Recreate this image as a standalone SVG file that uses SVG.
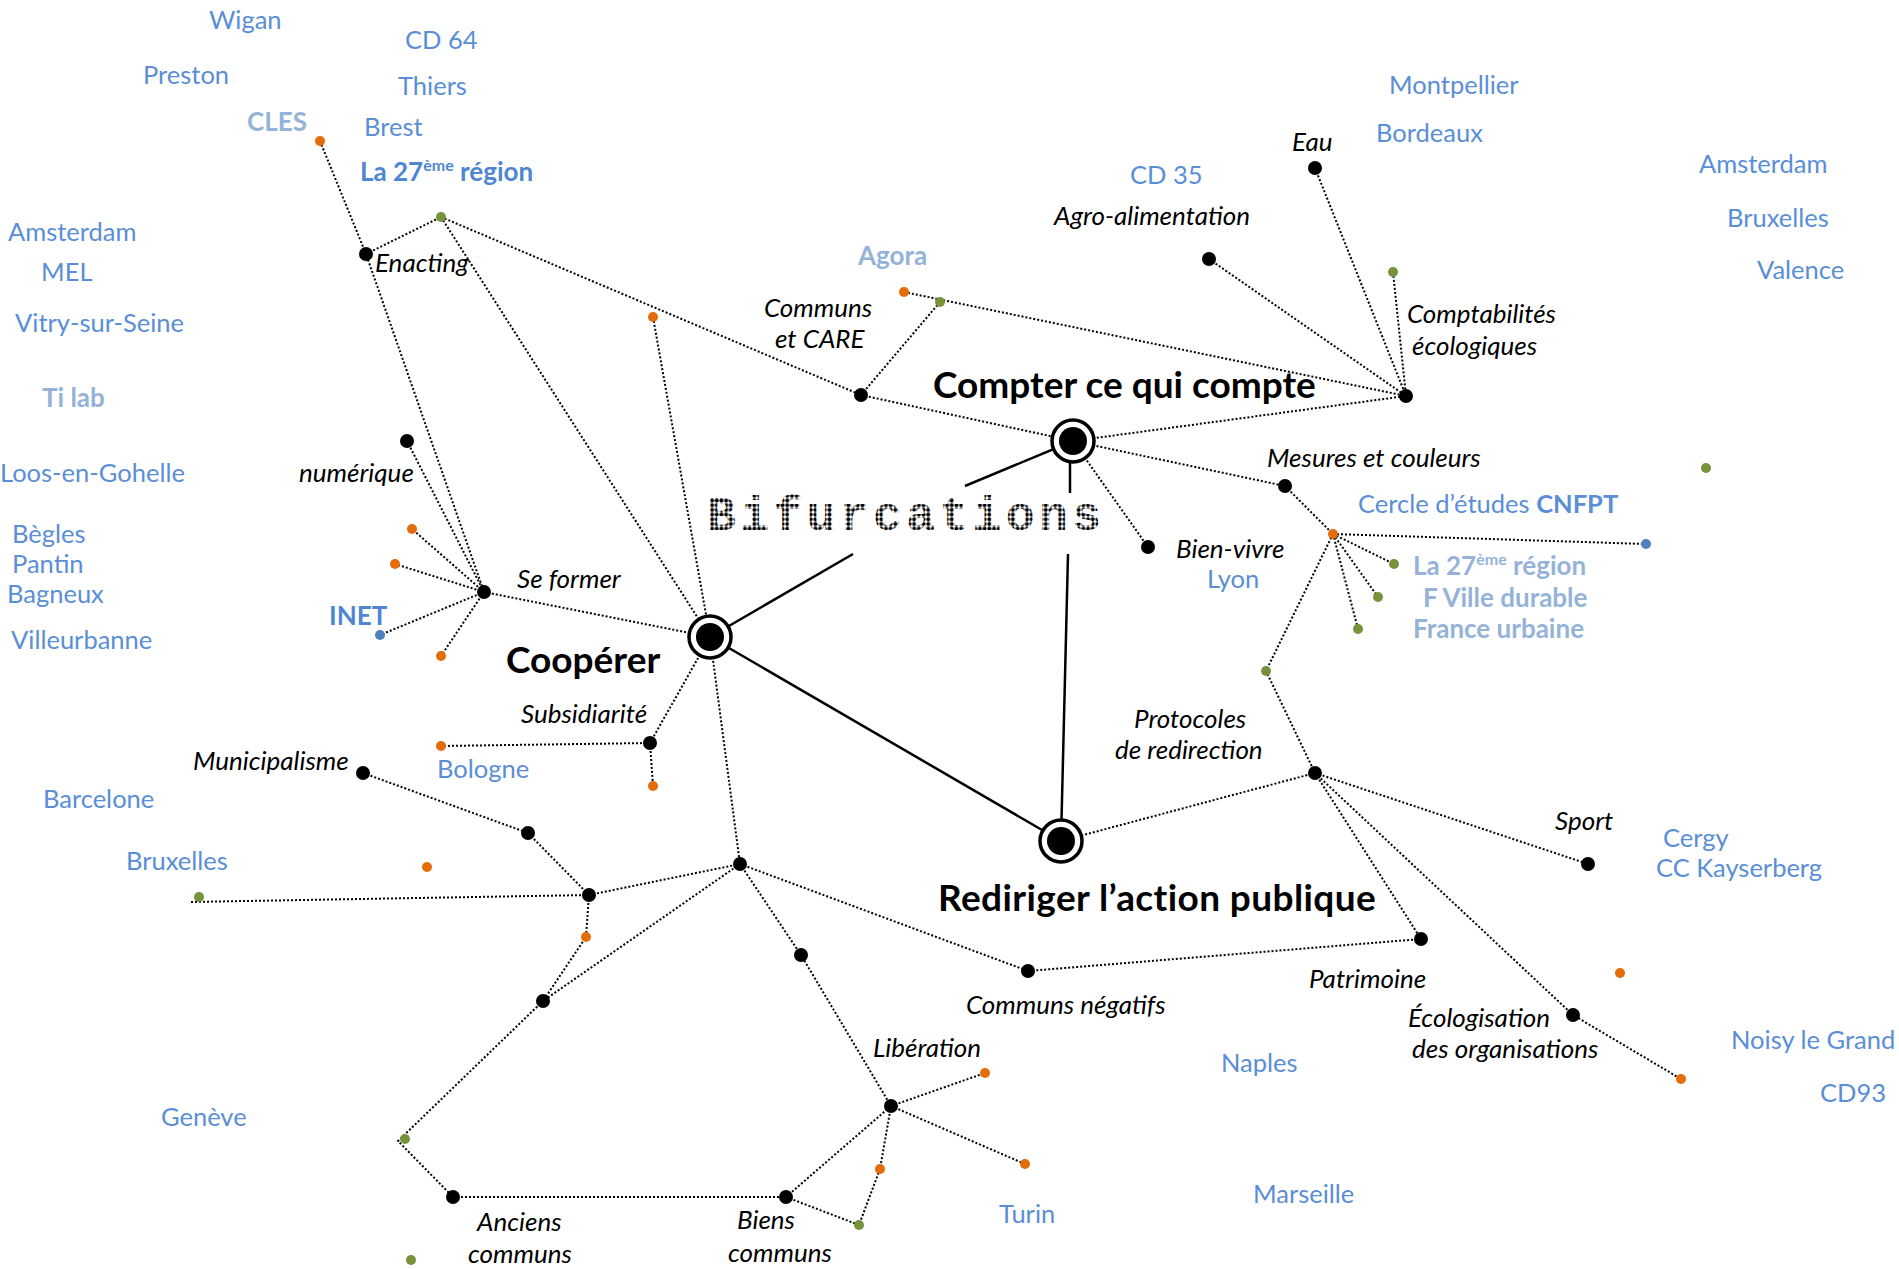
<svg xmlns="http://www.w3.org/2000/svg" width="1899" height="1269" viewBox="0 0 1899 1269">
<defs>
<style>
  text { font-family: Lato, "Liberation Sans", sans-serif; }
  .place { fill: #5a8ed6; font-size: 25.5px; }
  .pale { fill: #95b3d9; font-size: 26px; font-weight: bold; }
  .org { fill: #4f86d2; font-size: 26px; font-weight: bold; }
  .theme { fill: #000; font-size: 26px; font-style: italic; }
  .axis { fill: #000; font-size: 37px; font-weight: bold; }
  .title { font-family: "Liberation Mono", "DejaVu Sans Mono", monospace; font-size: 48px; font-weight: bold; fill: url(#dotgrid); }
  .node { fill: #000; }
  .o { fill: #e46c0a; }
  .g { fill: #76923c; }
  .b { fill: #4f81bd; }
  .link { stroke: #000; stroke-width: 2; stroke-dasharray: 2 2; fill: none; }
  .solid { stroke: #000; stroke-width: 2.5; fill: none; }
  .ring { fill: #fff; stroke: #000; stroke-width: 3.5; }
</style>
<pattern id="dotgrid" width="4.7" height="4.7" patternUnits="userSpaceOnUse">
  <circle cx="2.35" cy="2.35" r="2" fill="#000"/>
</pattern>
</defs>
<rect width="1899" height="1269" fill="#fff"/>

<!-- connectors -->
<g id="connectors">
  <!-- solid axes -->
  <line class="solid" x1="710" y1="637" x2="1061" y2="841"/>
  <line class="solid" x1="710" y1="637" x2="853" y2="554"/>
  <line class="solid" x1="1073" y1="441" x2="965" y2="486"/>
  <line class="solid" x1="1070" y1="441" x2="1070" y2="493"/>
  <line class="solid" x1="1061" y1="841" x2="1068" y2="554"/>
  <!-- Coopérer branch -->
  <polyline class="link" points="320,141 366,254 484,592"/>
  <line class="link" x1="366" y1="254" x2="441" y2="217"/>
  <line class="link" x1="441" y1="217" x2="710" y2="637"/>
  <line class="link" x1="441" y1="217" x2="861" y2="395"/>
  <line class="link" x1="653" y1="317" x2="710" y2="637"/>
  <line class="link" x1="484" y1="592" x2="710" y2="637"/>
  <line class="link" x1="484" y1="592" x2="407" y2="441"/>
  <line class="link" x1="484" y1="592" x2="412" y2="529"/>
  <line class="link" x1="484" y1="592" x2="395" y2="564"/>
  <line class="link" x1="484" y1="592" x2="380" y2="635"/>
  <line class="link" x1="484" y1="592" x2="441" y2="656"/>
  <line class="link" x1="710" y1="637" x2="650" y2="743"/>
  <line class="link" x1="650" y1="743" x2="441" y2="746"/>
  <line class="link" x1="650" y1="743" x2="653" y2="786"/>
  <line class="link" x1="710" y1="637" x2="740" y2="864"/>
  <line class="link" x1="740" y1="864" x2="589" y2="895"/>
  <line class="link" x1="740" y1="864" x2="543" y2="1001"/>
  <polyline class="link" points="740,864 801,955 891,1106"/>
  <line class="link" x1="740" y1="864" x2="1028" y2="971"/>
  <polyline class="link" points="363,773 528,833 589,895"/>
  <line class="link" x1="589" y1="895" x2="189" y2="902"/>
  <polyline class="link" points="589,895 586,937 543,1001"/>
  <polyline class="link" points="543,1001 398,1141 453,1197 786,1197"/>
  <line class="link" x1="786" y1="1197" x2="891" y2="1106"/>
  <polyline class="link" points="786,1197 859,1225 880,1169 891,1106"/>
  <line class="link" x1="891" y1="1106" x2="985" y2="1073"/>
  <line class="link" x1="891" y1="1106" x2="1025" y2="1164"/>
  <!-- Compter branch -->
  <line class="link" x1="861" y1="395" x2="940" y2="302"/>
  <line class="link" x1="904" y1="292" x2="1406" y2="396"/>
  <line class="link" x1="861" y1="395" x2="1073" y2="441"/>
  <line class="link" x1="1073" y1="441" x2="1406" y2="396"/>
  <line class="link" x1="1209" y1="259" x2="1406" y2="396"/>
  <line class="link" x1="1315" y1="168" x2="1406" y2="396"/>
  <line class="link" x1="1393" y1="272" x2="1406" y2="396"/>
  <line class="link" x1="1073" y1="441" x2="1285" y2="486"/>
  <line class="link" x1="1073" y1="441" x2="1148" y2="547"/>
  <line class="link" x1="1285" y1="486" x2="1333" y2="534"/>
  <line class="link" x1="1333" y1="534" x2="1646" y2="544"/>
  <line class="link" x1="1333" y1="534" x2="1394" y2="564"/>
  <line class="link" x1="1333" y1="534" x2="1378" y2="597"/>
  <line class="link" x1="1333" y1="534" x2="1358" y2="629"/>
  <polyline class="link" points="1333,534 1266,671 1315,773"/>
  <!-- Rediriger branch -->
  <line class="link" x1="1315" y1="773" x2="1061" y2="841"/>
  <line class="link" x1="1315" y1="773" x2="1588" y2="864"/>
  <line class="link" x1="1315" y1="773" x2="1421" y2="939"/>
  <polyline class="link" points="1315,773 1573,1015 1681,1079"/>
  <line class="link" x1="1421" y1="939" x2="1028" y2="971"/>
</g>

<!-- axes -->
<g id="cooperer">
  <circle class="ring" cx="710" cy="637" r="21"/>
  <circle class="node" cx="710" cy="637" r="14"/>
  <text class="axis" x="506" y="673">Coopérer</text>
</g>
<g id="compter">
  <circle class="ring" cx="1073" cy="441" r="21"/>
  <circle class="node" cx="1073" cy="441" r="14"/>
  <text class="axis" x="933" y="398">Compter ce qui compte</text>
</g>
<g id="rediriger">
  <circle class="ring" cx="1061" cy="841" r="21"/>
  <circle class="node" cx="1061" cy="841" r="14"/>
  <text class="axis" x="938" y="911" letter-spacing="0.4">Rediriger l’action publique</text>
</g>
<g id="bifurcations">
  <text class="title" x="707" y="530" textLength="394" lengthAdjust="spacing">Bifurcations</text>
</g>

<!-- themes -->
<g id="enacting"><circle class="node" cx="366" cy="254" r="7"/><text class="theme" x="375" y="272">Enacting</text></g>
<g id="numerique"><circle class="node" cx="407" cy="441" r="7"/><text class="theme" x="299" y="482">numérique</text></g>
<g id="se-former"><circle class="node" cx="484" cy="592" r="7"/><text class="theme" x="517" y="588">Se former</text></g>
<g id="subsidiarite"><circle class="node" cx="650" cy="743" r="7"/><text class="theme" x="521" y="723">Subsidiarité</text></g>
<g id="municipalisme"><circle class="node" cx="363" cy="773" r="7"/><text class="theme" x="193" y="770">Municipalisme</text></g>
<g id="relay-1"><circle class="node" cx="528" cy="833" r="7"/></g>
<g id="relay-2"><circle class="node" cx="589" cy="895" r="7"/></g>
<g id="relay-3"><circle class="node" cx="543" cy="1001" r="7"/></g>
<g id="relay-hub"><circle class="node" cx="740" cy="864" r="7"/></g>
<g id="relay-4"><circle class="node" cx="801" cy="955" r="7"/></g>
<g id="liberation"><circle class="node" cx="891" cy="1106" r="7"/><text class="theme" x="873" y="1057">Libération</text></g>
<g id="biens-communs"><circle class="node" cx="786" cy="1197" r="7"/><text class="theme" x="737" y="1229">Biens</text><text class="theme" x="728" y="1262">communs</text></g>
<g id="anciens-communs"><circle class="node" cx="453" cy="1197" r="7"/><text class="theme" x="477" y="1231">Anciens</text><text class="theme" x="468" y="1263">communs</text></g>
<g id="communs-negatifs"><circle class="node" cx="1028" cy="971" r="7"/><text class="theme" x="966" y="1014">Communs négatifs</text></g>
<g id="patrimoine"><circle class="node" cx="1421" cy="939" r="7"/><text class="theme" x="1309" y="988">Patrimoine</text></g>
<g id="protocoles"><circle class="node" cx="1315" cy="773" r="7"/><text class="theme" x="1134" y="728">Protocoles</text><text class="theme" x="1115" y="759">de redirection</text></g>
<g id="sport"><circle class="node" cx="1588" cy="864" r="7"/><text class="theme" x="1555" y="830">Sport</text></g>
<g id="ecologisation"><circle class="node" cx="1573" cy="1015" r="7"/><text class="theme" x="1408" y="1027">Écologisation</text><text class="theme" x="1412" y="1058">des organisations</text></g>
<g id="mesures"><circle class="node" cx="1285" cy="486" r="7"/><text class="theme" x="1267" y="467">Mesures et couleurs</text></g>
<g id="bien-vivre"><circle class="node" cx="1148" cy="547" r="7"/><text class="theme" x="1176" y="558">Bien-vivre</text></g>
<g id="comptabilites"><circle class="node" cx="1406" cy="396" r="7"/><text class="theme" x="1407" y="323">Comptabilités</text><text class="theme" x="1412" y="355">écologiques</text></g>
<g id="eau"><circle class="node" cx="1315" cy="168" r="7"/><text class="theme" x="1292" y="151">Eau</text></g>
<g id="agro"><circle class="node" cx="1209" cy="259" r="7"/><text class="theme" x="1054" y="225">Agro-alimentation</text></g>
<g id="communs-care"><circle class="node" cx="861" cy="395" r="7"/><text class="theme" x="764" y="317">Communs</text><text class="theme" x="775" y="348">et CARE</text></g>

<!-- coloured markers -->
<g id="markers">
  <circle class="o" cx="320" cy="141" r="5"/>
  <circle class="o" cx="653" cy="317" r="5"/>
  <circle class="o" cx="904" cy="292" r="5"/>
  <circle class="o" cx="412" cy="529" r="5"/>
  <circle class="o" cx="395" cy="564" r="5"/>
  <circle class="o" cx="441" cy="656" r="5"/>
  <circle class="o" cx="441" cy="746" r="5"/>
  <circle class="o" cx="653" cy="786" r="5"/>
  <circle class="o" cx="427" cy="867" r="5"/>
  <circle class="o" cx="586" cy="937" r="5"/>
  <circle class="o" cx="985" cy="1073" r="5"/>
  <circle class="o" cx="1025" cy="1164" r="5"/>
  <circle class="o" cx="880" cy="1169" r="5"/>
  <circle class="o" cx="1333" cy="534" r="5"/>
  <circle class="o" cx="1620" cy="973" r="5"/>
  <circle class="o" cx="1681" cy="1079" r="5"/>
  <circle class="g" cx="441" cy="217" r="5"/>
  <circle class="g" cx="940" cy="302" r="5"/>
  <circle class="g" cx="1393" cy="272" r="5"/>
  <circle class="g" cx="1706" cy="468" r="5"/>
  <circle class="g" cx="1394" cy="564" r="5"/>
  <circle class="g" cx="1378" cy="597" r="5"/>
  <circle class="g" cx="1358" cy="629" r="5"/>
  <circle class="g" cx="1266" cy="671" r="5"/>
  <circle class="g" cx="199" cy="897" r="5"/>
  <circle class="g" cx="405" cy="1139" r="5"/>
  <circle class="g" cx="411" cy="1260" r="5"/>
  <circle class="g" cx="859" cy="1225" r="5"/>
  <circle class="b" cx="380" cy="635" r="5"/>
  <circle class="b" cx="1646" cy="544" r="5"/>
</g>

<!-- places and partners -->
<g id="places">
  <text class="place" x="209" y="29">Wigan</text>
  <text class="place" x="143" y="84">Preston</text>
  <text class="place" x="405" y="49">CD 64</text>
  <text class="place" x="398" y="95">Thiers</text>
  <text class="place" x="364" y="136">Brest</text>
  <text class="place" x="8" y="241">Amsterdam</text>
  <text class="place" x="41" y="281">MEL</text>
  <text class="place" x="15" y="332">Vitry-sur-Seine</text>
  <text class="place" x="0" y="482">Loos-en-Gohelle</text>
  <text class="place" x="12" y="543">Bègles</text>
  <text class="place" x="12" y="573">Pantin</text>
  <text class="place" x="7" y="603">Bagneux</text>
  <text class="place" x="11" y="649">Villeurbanne</text>
  <text class="place" x="43" y="808">Barcelone</text>
  <text class="place" x="126" y="870">Bruxelles</text>
  <text class="place" x="161" y="1126">Genève</text>
  <text class="place" x="437" y="778">Bologne</text>
  <text class="place" x="999" y="1223">Turin</text>
  <text class="place" x="1221" y="1072">Naples</text>
  <text class="place" x="1253" y="1203">Marseille</text>
  <text class="place" x="1207" y="588">Lyon</text>
  <text class="place" x="1130" y="184">CD 35</text>
  <text class="place" x="1389" y="94">Montpellier</text>
  <text class="place" x="1376" y="142">Bordeaux</text>
  <text class="place" x="1699" y="173">Amsterdam</text>
  <text class="place" x="1727" y="227">Bruxelles</text>
  <text class="place" x="1757" y="279">Valence</text>
  <text class="place" x="1358" y="513">Cercle d’études <tspan font-weight="bold">CNFPT</tspan></text>
  <text class="place" x="1663" y="847">Cergy</text>
  <text class="place" x="1656" y="877">CC Kayserberg</text>
  <text class="place" x="1731" y="1049">Noisy le Grand</text>
  <text class="place" x="1820" y="1102">CD93</text>
  <text class="pale" x="247" y="131">CLES</text>
  <text class="pale" x="42" y="407">Ti lab</text>
  <text class="pale" x="858" y="265">Agora</text>
  <text class="pale" x="1413" y="575">La 27<tspan font-size="16" dy="-10">ème</tspan><tspan dy="10"> région</tspan></text>
  <text class="pale" x="1423" y="607">F Ville durable</text>
  <text class="pale" x="1413" y="638">France urbaine</text>
  <text class="org" x="360" y="181">La 27<tspan font-size="16" dy="-10">ème</tspan><tspan dy="10"> région</tspan></text>
  <text class="org" x="329" y="625">INET</text>
</g>
</svg>
